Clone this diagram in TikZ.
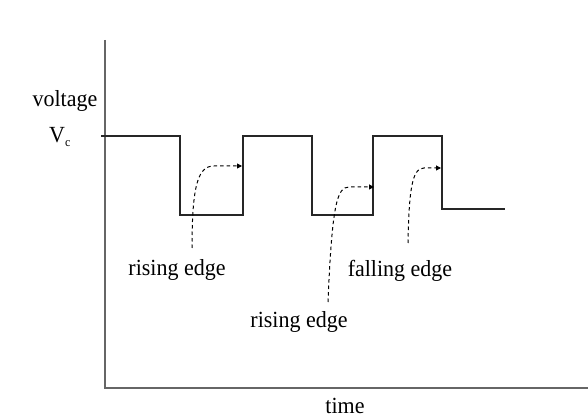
\documentclass[tikz,border=0pt]{standalone}
\usepackage{fontspec}
\setmainfont{Liberation Serif}
\usetikzlibrary{arrows.meta}
\begin{document}
\begin{tikzpicture}[x=1pt,y=-1pt,
  axis/.style={draw=black!60,line width=1.6pt},
  wave/.style={draw=black!85,line width=1.2pt},
  edgenote/.style={dashed,dash pattern=on 3.5pt off 3pt,line width=1pt,
    -{Triangle[length=5pt,width=5pt]}},
  lbl/.style={font=\fontsize{22}{24}\selectfont,inner sep=0pt,yscale=1.05}]
\useasboundingbox (0,0) rectangle (588,419);
% axes
\coordinate (origin) at (105,388);
\coordinate (ytop) at (105,40);
\coordinate (xend) at (588,388);
\draw[axis] (ytop) -- (origin) -- (xend);
% square wave
\coordinate (w0) at (101,136);
\coordinate (w1) at (180,136);
\coordinate (w2) at (180,215);
\coordinate (w3) at (243,215);
\coordinate (w4) at (243,136);
\coordinate (w5) at (312,136);
\coordinate (w6) at (312,215);
\coordinate (w7) at (373,215);
\coordinate (w8) at (373,136);
\coordinate (w9) at (442,136);
\coordinate (w10) at (442,209);
\coordinate (w11) at (505,209);
\draw[wave] (w0) -- (w1) -- (w2) -- (w3) -- (w4) -- (w5) -- (w6) -- (w7)
  -- (w8) -- (w9) -- (w10) -- (w11);
% labels
\node[lbl] (volt) at (65,101) {voltage};
\node[lbl] (vc) at (60,137) {V\textsubscript{\fontsize{12}{13}\selectfont c}};
\node[lbl] (rise1) at (177,270) {rising edge};
\node[lbl] (rise2) at (299,322) {rising edge};
\node[lbl] (fall) at (400,271) {falling edge};
\node[lbl] (time) at (345,406) {time};
% pointers to the edges
\coordinate (p1) at (192,248);
\coordinate (e1) at (242,166);
\coordinate (p2) at (328,302);
\coordinate (e2) at (374,187);
\coordinate (p3) at (408,243);
\coordinate (e3) at (441,168);
\draw[edgenote] (p1) .. controls (192,185) and (198,166) .. (214,166) -- (e1);
\draw[edgenote] (p2) .. controls (332,205) and (337,187) .. (349,187) -- (e2);
\draw[edgenote] (p3) .. controls (409,190) and (412,168) .. (424,168) -- (e3);
\end{tikzpicture}
\end{document}
